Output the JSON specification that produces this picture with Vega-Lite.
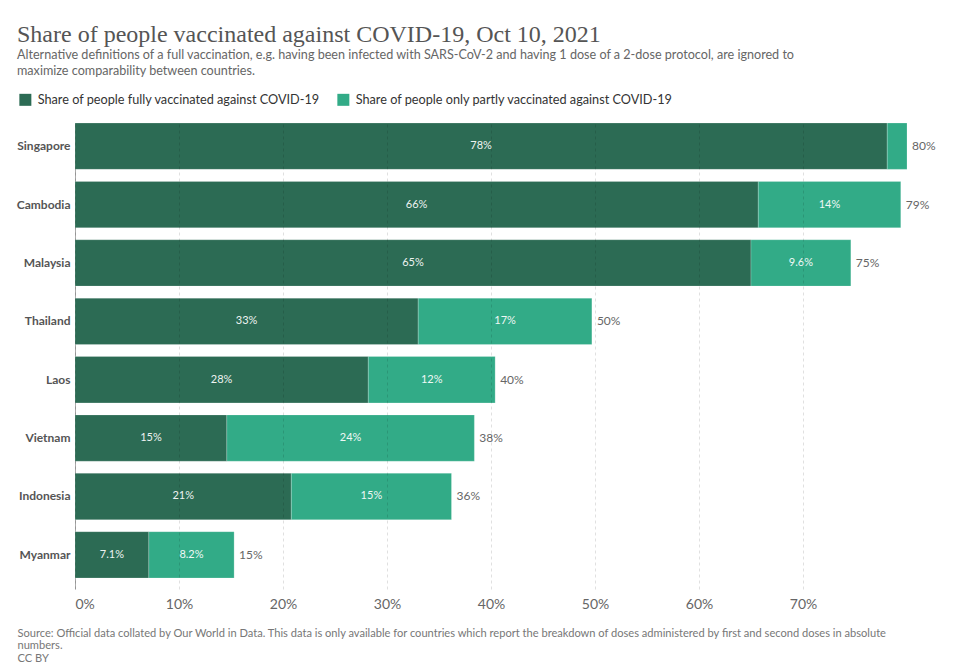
{
  "$schema": "https://vega.github.io/schema/vega-lite/v6.json",
  "width": 832,
  "height": 466,
  "padding": {"left": 16, "top": 23, "right": 20, "bottom": 4},
  "background": "white",
  "config": {"font": "Lato", "view": {"stroke": null}},
  "title": {
    "text": "Share of people vaccinated against COVID-19, Oct 10, 2021",
    "subtitle": ["Alternative definitions of a full vaccination, e.g. having been infected with SARS-CoV-2 and having 1 dose of a 2-dose protocol, are ignored to", "maximize comparability between countries."],
    "anchor": "start",
    "frame": "group",
    "dx": -58,
    "font": "Liberation Serif",
    "fontSize": 24,
    "fontWeight": "normal",
    "color": "#555555",
    "subtitleFont": "Lato",
    "subtitleFontSize": 12.6,
    "subtitleColor": "#666666",
    "subtitleLineHeight": 16,
    "subtitlePadding": 2,
    "offset": 15
  },
  "datasets": {
    "seg": [
      {"country": "Singapore", "type": "Share of people fully vaccinated against COVID-19", "value": 78.1, "label": "78%"},
      {"country": "Singapore", "type": "Share of people only partly vaccinated against COVID-19", "value": 1.9, "label": ""},
      {"country": "Cambodia", "type": "Share of people fully vaccinated against COVID-19", "value": 65.7, "label": "66%"},
      {"country": "Cambodia", "type": "Share of people only partly vaccinated against COVID-19", "value": 13.7, "label": "14%"},
      {"country": "Malaysia", "type": "Share of people fully vaccinated against COVID-19", "value": 65.0, "label": "65%"},
      {"country": "Malaysia", "type": "Share of people only partly vaccinated against COVID-19", "value": 9.6, "label": "9.6%"},
      {"country": "Thailand", "type": "Share of people fully vaccinated against COVID-19", "value": 33.0, "label": "33%"},
      {"country": "Thailand", "type": "Share of people only partly vaccinated against COVID-19", "value": 16.7, "label": "17%"},
      {"country": "Laos", "type": "Share of people fully vaccinated against COVID-19", "value": 28.2, "label": "28%"},
      {"country": "Laos", "type": "Share of people only partly vaccinated against COVID-19", "value": 12.2, "label": "12%"},
      {"country": "Vietnam", "type": "Share of people fully vaccinated against COVID-19", "value": 14.6, "label": "15%"},
      {"country": "Vietnam", "type": "Share of people only partly vaccinated against COVID-19", "value": 23.8, "label": "24%"},
      {"country": "Indonesia", "type": "Share of people fully vaccinated against COVID-19", "value": 20.8, "label": "21%"},
      {"country": "Indonesia", "type": "Share of people only partly vaccinated against COVID-19", "value": 15.4, "label": "15%"},
      {"country": "Myanmar", "type": "Share of people fully vaccinated against COVID-19", "value": 7.1, "label": "7.1%"},
      {"country": "Myanmar", "type": "Share of people only partly vaccinated against COVID-19", "value": 8.2, "label": "8.2%"}
    ],
    "tot": [
      {"country": "Singapore", "total": 80.0, "label": "80%"},
      {"country": "Cambodia", "total": 79.4, "label": "79%"},
      {"country": "Malaysia", "total": 74.6, "label": "75%"},
      {"country": "Thailand", "total": 49.7, "label": "50%"},
      {"country": "Laos", "total": 40.4, "label": "40%"},
      {"country": "Vietnam", "total": 38.4, "label": "38%"},
      {"country": "Indonesia", "total": 36.2, "label": "36%"},
      {"country": "Myanmar", "total": 15.3, "label": "15%"}
    ]
  },
  "encoding": {
    "y": {
      "field": "country",
      "type": "nominal",
      "sort": ["Singapore", "Cambodia", "Malaysia", "Thailand", "Laos", "Vietnam", "Indonesia", "Myanmar"],
      "scale": {"paddingInner": 0.206, "paddingOuter": 0.094, "align": 0},
      "axis": {
        "title": null,
        "domain": true,
        "domainColor": "#aaaaaa",
        "ticks": false,
        "grid": false,
        "labelFontWeight": "bold",
        "labelFontSize": 12,
        "labelColor": "#555555",
        "labelPadding": 5
      }
    }
  },
  "layer": [
    {
      "data": {"name": "seg"},
      "transform": [
        {"stack": "value", "groupby": ["country"], "sort": [{"field": "type"}], "as": ["v0", "v1"]}
      ],
      "mark": {"type": "bar", "stroke": "#ffffff", "strokeWidth": 0.6, "strokeOpacity": 0.35},
      "encoding": {
        "x": {
          "field": "v0",
          "type": "quantitative",
          "scale": {"domain": [0, 80], "nice": false},
          "axis": {
            "values": [0, 10, 20, 30, 40, 50, 60, 70],
            "labelExpr": "datum.value + '%'",
            "labelFlush": true,
            "grid": true,
            "gridDash": [3, 3],
            "gridColor": "#000000",
            "gridOpacity": 0.12,
            "domain": false,
            "ticks": false,
            "labelFontSize": 14,
            "labelColor": "#666666",
            "labelPadding": 8,
            "zindex": 1,
            "title": ["Source: Official data collated by Our World in Data. This data is only available for countries which report the breakdown of doses administered by first and second doses in absolute", "numbers.", "CC BY"],
            "titleAnchor": "start",
            "titleAlign": "left",
            "titleBaseline": "top",
            "titleX": -58,
            "titleY": 38,
            "titleFontSize": 11.1,
            "titleFontWeight": "normal",
            "titleColor": "#777777",
            "titleLineHeight": 12.5
          }
        },
        "x2": {"field": "v1"},
        "color": {
          "field": "type",
          "type": "nominal",
          "scale": {
            "domain": ["Share of people fully vaccinated against COVID-19", "Share of people only partly vaccinated against COVID-19"],
            "range": ["#2c6b54", "#32ab87"]
          },
          "legend": {
            "orient": "none",
            "legendX": -56,
            "legendY": -30,
            "direction": "horizontal",
            "title": null,
            "symbolType": "square",
            "symbolSize": 144,
            "symbolStrokeWidth": 0,
            "symbolOpacity": 1,
            "labelFontSize": 12.7,
            "labelColor": "#333333",
            "labelOffset": 6,
            "columnPadding": 17,
            "labelLimit": 400
          }
        }
      }
    },
    {
      "data": {"name": "seg"},
      "transform": [
        {"stack": "value", "groupby": ["country"], "sort": [{"field": "type"}], "as": ["v0", "v1"]},
        {"filter": "datum.label != ''"},
        {"fold": ["v0", "v1"], "as": ["edge", "pos"]},
        {"aggregate": [{"op": "mean", "field": "pos", "as": "mid"}], "groupby": ["country", "type", "label"]}
      ],
      "mark": {"type": "text", "align": "center", "baseline": "middle", "fontSize": 11, "color": "#ffffff", "opacity": 0.92},
      "encoding": {
        "x": {"field": "mid", "type": "quantitative"},
        "text": {"field": "label"}
      }
    },
    {
      "data": {"name": "tot"},
      "mark": {"type": "text", "align": "left", "baseline": "middle", "dx": 5, "fontSize": 12, "color": "#666666"},
      "encoding": {
        "x": {"field": "total", "type": "quantitative"},
        "text": {"field": "label"}
      }
    }
  ]
}
